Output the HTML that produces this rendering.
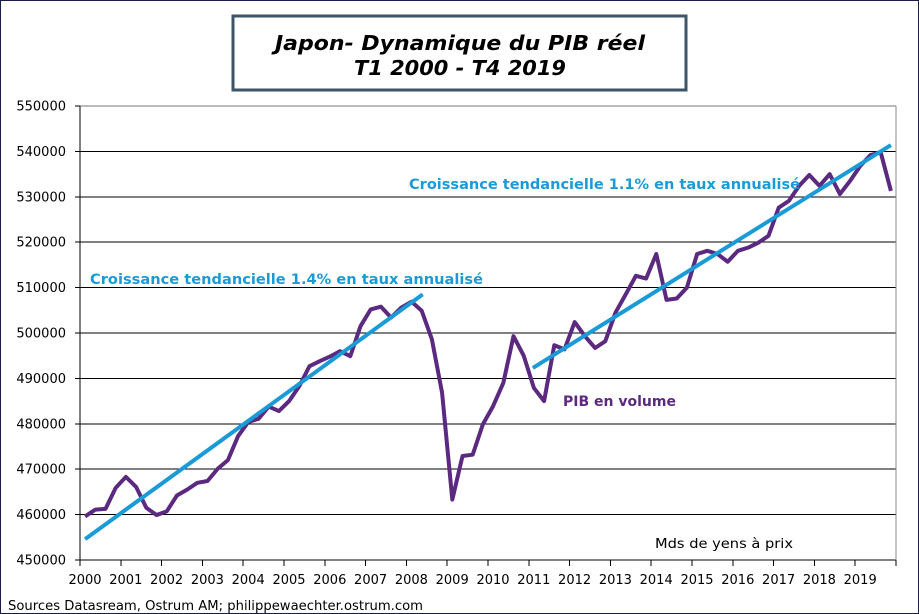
<!DOCTYPE html>
<html><head><meta charset="utf-8"><style>
html,body{margin:0;padding:0;background:#fff}
svg{display:block;font-family:"DejaVu Sans","Liberation Sans",sans-serif}
</style></head><body>
<svg id="chart" width="919" height="614" viewBox="0 0 919 614" xmlns="http://www.w3.org/2000/svg">
<rect x="0.5" y="0.5" width="918" height="613" fill="#fff" stroke="#1c1c4a" stroke-width="1"/>
<g id="grid"></g>
<g id="yaxis"></g>
<g id="xaxis"></g>
<g id="series"></g>
<rect x="233" y="16" width="453" height="74" fill="#fff" stroke="#3d5566" stroke-width="3"/>
<text x="460" y="50" text-anchor="middle" font-size="20" font-weight="bold" font-style="italic" fill="#000" textLength="370" lengthAdjust="spacingAndGlyphs">Japon- Dynamique du PIB réel</text>
<text x="460" y="75" text-anchor="middle" font-size="20" font-weight="bold" font-style="italic" fill="#000" textLength="212" lengthAdjust="spacingAndGlyphs">T1 2000 - T4 2019</text>
<text x="90" y="284" font-size="14" font-weight="bold" fill="#1a9bd7" textLength="393" lengthAdjust="spacingAndGlyphs">Croissance tendancielle  1.4% en taux annualisé</text>
<text x="409" y="189" font-size="14" font-weight="bold" fill="#1a9bd7" textLength="391" lengthAdjust="spacingAndGlyphs">Croissance tendancielle  1.1% en taux annualisé</text>
<text x="563" y="406" font-size="14" font-weight="bold" fill="#5b2a80" textLength="113" lengthAdjust="spacingAndGlyphs">PIB en volume</text>
<text x="655" y="548" font-size="13" fill="#000" textLength="138" lengthAdjust="spacingAndGlyphs">Mds de yens à prix</text>
<text x="8" y="610" font-size="13" fill="#000" textLength="415" lengthAdjust="spacingAndGlyphs">Sources Datasream,  Ostrum  AM; philippewaechter.ostrum.com</text>
</svg>
<script>
const yTicks=[450000,460000,470000,480000,490000,500000,510000,520000,530000,540000,550000];
const years=["2000","2001","2002","2003","2004","2005","2006","2007","2008","2009","2010","2011","2012","2013","2014","2015","2016","2017","2018","2019"];
const gdp=[459600,461100,461250,465900,468300,466100,461500,459900,460700,464200,465500,467000,467400,470100,472000,477300,480400,481100,483800,482800,485000,488300,492700,493800,494800,496000,494900,501500,505200,505800,503400,505600,506900,504900,498600,486800,463300,472900,473200,479900,483900,489000,499300,495000,487900,485000,497300,496400,502400,499300,496700,498200,504500,508500,512600,512000,517400,507300,507600,510000,517400,518100,517400,515700,518100,518800,519900,521400,527600,529100,532400,534800,532400,535000,530600,533500,536800,539200,539800,531300];
const trend1Idx=[0,33.1];
const trend1Val=[454600,508500];
const trend2Idx=[43.9,79];
const trend2Val=[492300,541400];
const NS="http://www.w3.org/2000/svg";
const X0=80,X1=896,Y0=560,Y1=106,VMIN=450000,VMAX=550000,NQ=80;
const xq=i=>X0+(i+0.5)*(X1-X0)/NQ;
const xy=k=>X0+k*(X1-X0)/years.length;
const yv=v=>Y0-(v-VMIN)/(VMAX-VMIN)*(Y0-Y1);
function mk(tag,attrs,parent,txt){const e=document.createElementNS(NS,tag);for(const k in attrs)e.setAttribute(k,attrs[k]);if(txt!==undefined)e.textContent=txt;parent.appendChild(e);return e;}
const grid=document.getElementById('grid'),ya=document.getElementById('yaxis'),xa=document.getElementById('xaxis'),ser=document.getElementById('series');
yTicks.forEach(v=>{
  const l=mk('line',{x1:X0,x2:X1,y1:yv(v),y2:yv(v),stroke:v===VMIN?'#000':(v===VMAX?'#777':'#000'),'stroke-width':1,'shape-rendering':'crispEdges'},grid);
  
  
  const tk=mk('line',{x1:X0-5,x2:X0,y1:yv(v),y2:yv(v),stroke:'#000','shape-rendering':'crispEdges'},ya);
  
  
  const t=mk('text',{x:66,y:yv(v)+4.5,'text-anchor':'end','font-size':13,fill:'#000'},ya,String(v));
  
  
});
const axl=mk('line',{x1:X0,x2:X0,y1:Y1,y2:Y0,stroke:'#000','shape-rendering':'crispEdges'},ya);


const rl=mk('line',{x1:X1,x2:X1,y1:Y1,y2:Y0,stroke:'#888','shape-rendering':'crispEdges'},grid);


for(let k=0;k<=years.length;k++){
  const tk=mk('line',{x1:xy(k),x2:xy(k),y1:Y0,y2:Y0+6,stroke:'#000','shape-rendering':'crispEdges'},xa);
  
  
}
years.forEach((y,k)=>{
  const t=mk('text',{x:xy(k)+5,y:584,'text-anchor':'middle','font-size':13,fill:'#000'},xa,y);
  
  
});
const p=mk('polyline',{points:gdp.map((v,i)=>xq(i)+','+yv(v)).join(' '),fill:'none',stroke:'#5b2a80','stroke-width':4,'stroke-linejoin':'round'},ser);


[[trend1Idx,trend1Val,'trend-line-1'],[trend2Idx,trend2Val,'trend-line-2']].forEach(([ix,vv,n])=>{
  const l=mk('line',{x1:xq(ix[0]),y1:yv(vv[0]),x2:xq(ix[1]),y2:yv(vv[1]),stroke:'#1a9bd7','stroke-width':4},ser);
  
  
});
</script>
</body></html>
